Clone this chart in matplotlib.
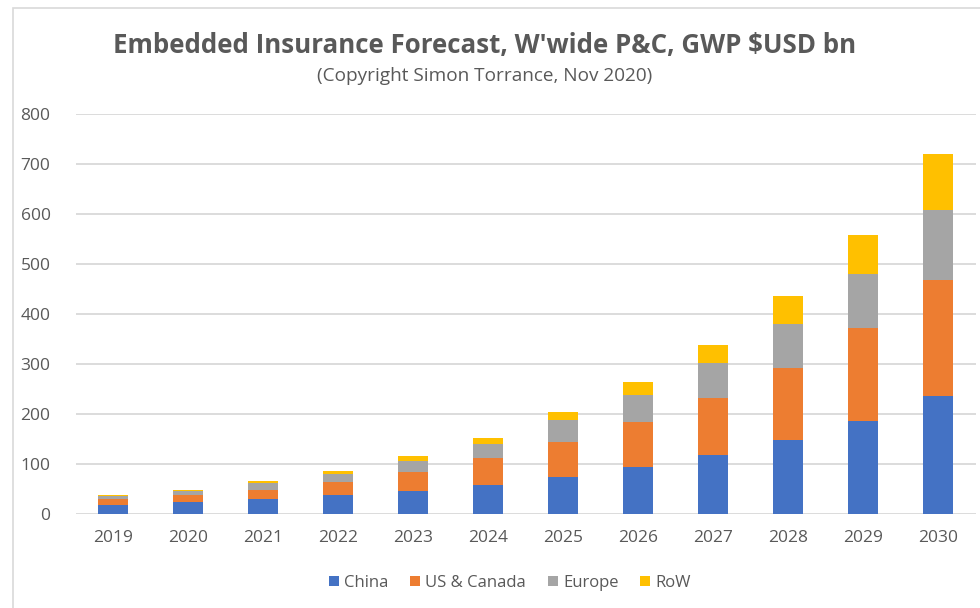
import numpy as np
import matplotlib
matplotlib.use('Agg')
import matplotlib.pyplot as plt
from matplotlib.patches import Rectangle

years = ["2019", "2020", "2021", "2022", "2023", "2024",
         "2025", "2026", "2027", "2028", "2029", "2030"]
china = [17, 23, 29, 38, 46, 58, 73, 94, 117, 148, 186, 236]
us_canada = [12, 14, 19, 25, 38, 53, 71, 90, 115, 144, 186, 232]
europe = [7, 9, 13, 17, 22, 29, 44, 54, 69, 88, 108, 140]
row = [2, 2, 4, 6, 9, 12, 16, 25, 37, 55, 77, 112]

series = [("China", china, "#4472C4"),
          ("US & Canada", us_canada, "#ED7D31"),
          ("Europe", europe, "#A5A5A5"),
          ("RoW", row, "#FFC000")]

plt.rcParams['font.family'] = ['Open Sans', 'DejaVu Sans']
grey = "#595959"

fig = plt.figure(figsize=(9.8, 6.08), dpi=100, facecolor="white")
# chart border (cropped at right/bottom)
fig.patches.append(Rectangle((13/980, -0.1), 1.2, 1 - 8/608 + 0.1, transform=fig.transFigure,
                             fill=False, edgecolor="#D9D9D9", linewidth=1.2))

ax = fig.add_axes([75.5/980, (608-513.5)/608, 900/980, (513.5-114)/608])
x = np.arange(len(years))
bottom = np.zeros(len(years))
for name, vals, col in series:
    ax.bar(x, vals, width=0.41, bottom=bottom, color=col, label=name, zorder=3)
    bottom += np.array(vals)

ax.set_xlim(-0.5, len(years) - 0.5)
ax.set_ylim(0, 800)
ax.set_yticks(range(0, 801, 100))
ax.set_xticks(x)
ax.set_xticklabels(years)
ax.yaxis.grid(True, color="#D9D9D9", linewidth=1.3, zorder=0)
for s in ax.spines.values():
    s.set_visible(False)
ax.tick_params(length=0, labelsize=12.5, labelcolor=grey)
ax.tick_params(axis='y', pad=18)
ax.tick_params(axis='x', pad=12)

fig.text(485/980, 1 - 46/608, "Embedded Insurance Forecast, W'wide P&C, GWP $USD bn",
         ha="center", va="center", fontsize=18.6, fontweight="bold", color=grey)
fig.text(485/980, 1 - 76/608, "(Copyright Simon Torrance, Nov 2020)",
         ha="center", va="center", fontsize=13.7, color=grey)

fig.legend(loc="center", bbox_to_anchor=(510/980, 1 - 583/608), ncol=4, frameon=False,
           fontsize=12, labelcolor=grey, handlelength=0.6, handleheight=0.6,
           handletextpad=0.3, columnspacing=1.3)

fig.savefig("out.png", dpi=100, facecolor="white")
